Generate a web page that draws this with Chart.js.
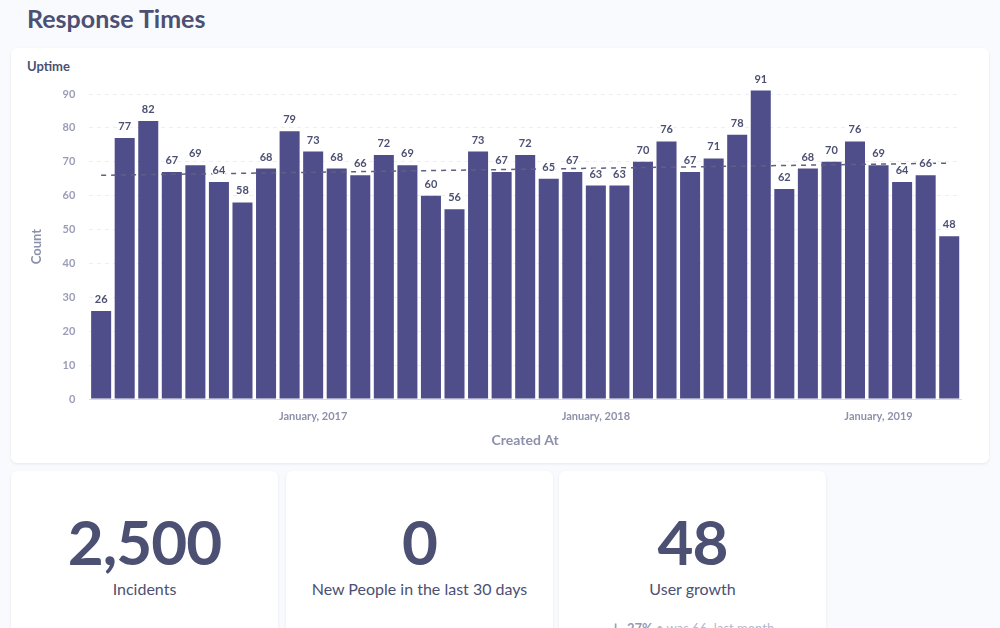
<!DOCTYPE html>
<html>
<head>
<meta charset="utf-8">
<script src="https://cdn.jsdelivr.net/npm/chart.js@4"></script>
<style>
  body { margin: 0; background: #f9fafd; font-family: Lato, sans-serif; color: #4c5073; width: 1000px; height: 628px; overflow: hidden; position: relative; }
  h1 { position: absolute; left: 27px; top: 3px; margin: 0; font-size: 25px; font-weight: 700; color: #4c5073; }
  .card { position: absolute; background: #fff; border-radius: 6px; box-shadow: 0 1px 3px rgba(0,0,0,0.08); }
  #chartCard { left: 11px; top: 48px; width: 978px; height: 415px; }
  #chartCard .ttl { position: absolute; left: 16px; top: 10px; font-size: 13px; font-weight: 700; }
  #chartCard canvas { position: absolute; left: 0; top: 0; }
  .stat { top: 471px; height: 170px; width: 267px; text-align: center; }
  .big { font-size: 62px; font-weight: 700; margin-top: 34px; line-height: 72px; letter-spacing: -1px; }
  .lbl { font-size: 16px; margin-top: 2px; }
  .sub { font-size: 13px; color: #b5b8cf; margin-top: 22px; }
  .sub b { color: #9699b4; }
</style>
</head>
<body>
<h1>Response Times</h1>
<div class="card" id="chartCard">
  <div class="ttl">Uptime</div>
  <canvas id="c" width="978" height="415"></canvas>
</div>
<div class="card stat" style="left:11px"><div class="big">2,500</div><div class="lbl">Incidents</div></div>
<div class="card stat" style="left:286px"><div class="big">0</div><div class="lbl">New People in the last 30 days</div></div>
<div class="card stat" style="left:559px"><div class="big">48</div><div class="lbl">User growth</div>
  <div class="sub"><b>&#8595;&nbsp; 27%</b> &bull; was 66 &nbsp;last month</div></div>
<script>
const months = ['Apr 2016','May 2016','Jun 2016','Jul 2016','Aug 2016','Sep 2016','Oct 2016','Nov 2016','Dec 2016',
  'January, 2017','Feb 2017','Mar 2017','Apr 2017','May 2017','Jun 2017','Jul 2017','Aug 2017','Sep 2017','Oct 2017','Nov 2017','Dec 2017',
  'January, 2018','Feb 2018','Mar 2018','Apr 2018','May 2018','Jun 2018','Jul 2018','Aug 2018','Sep 2018','Oct 2018','Nov 2018','Dec 2018',
  'January, 2019','Feb 2019','Mar 2019','Apr 2019'];
const counts = [26,77,82,67,69,64,58,68,79,73,68,66,72,69,60,56,73,67,72,65,67,63,63,70,76,67,71,78,91,62,68,70,76,69,64,66,48];
const trend = [66,null,null,null,null,null,null,null,null,null,null,null,null,null,null,null,null,null,
  null,null,null,null,null,null,null,null,null,null,null,null,null,null,null,null,null,null,69.6];
const yTicks = [0,10,20,30,40,50,60,70,80,90];

const barColor = '#4f4e8a';
const inkColor = '#4c5073';

const valueLabels = {
  id: 'valueLabels',
  afterDatasetsDraw(chart) {
    const ctx = chart.ctx;
    const meta = chart.getDatasetMeta(1);
    ctx.save();
    ctx.font = 'bold 11px Lato';
    ctx.fillStyle = inkColor;
    ctx.textAlign = 'center';
    ctx.textBaseline = 'bottom';
    ctx.strokeStyle = '#fff';
    ctx.lineWidth = 3;
    meta.data.forEach((bar, i) => {
      ctx.strokeText(counts[i], bar.x, bar.y - 6);
      ctx.fillText(counts[i], bar.x, bar.y - 6);
    });
    ctx.restore();
  }
};

new Chart(document.getElementById('c'), {
  data: {
    labels: months,
    datasets: [
      {
        type: 'line',
        data: trend,
        spanGaps: true,
        borderColor: '#5d6080',
        borderWidth: 1.5,
        borderDash: [5, 5],
        pointRadius: 0,
        order: 0
      },
      {
        type: 'bar',
        data: counts,
        backgroundColor: barColor,
        barPercentage: 0.85,
        categoryPercentage: 1,
        clip: false,
        order: 1
      }
    ]
  },
  plugins: [valueLabels],
  options: {
    responsive: false,
    animation: false,
    layout: { padding: { top: 46, right: 28, left: 14, bottom: 10 } },
    plugins: { legend: { display: false }, tooltip: { enabled: false } },
    scales: {
      x: {
        offset: true,
        grid: { display: false },
        border: { color: '#d8d9e6' },
        ticks: {
          autoSkip: false, maxRotation: 0,
          color: '#8d90ab', font: { family: 'Lato', size: 11, weight: 'bold' },
          callback: (v, i) => months[i].startsWith('January') ? months[i] : ''
        },
        title: { display: true, text: 'Created At', color: '#8d90ab', font: { family: 'Lato', size: 14, weight: 'bold' }, padding: { top: 6 } }
      },
      y: {
        min: 0, max: 90,
        afterBuildTicks: axis => { axis.ticks = yTicks.map(v => ({ value: v })); },
        grid: { color: '#eeeef4', drawTicks: false },
        border: { display: false, dash: [4, 4] },
        ticks: { color: '#9a9db6', padding: 14, font: { family: 'Lato', size: 11, weight: 'bold' } },
        title: { display: true, text: 'Count', color: '#8d90ab', font: { family: 'Lato', size: 13, weight: 'bold' } }
      }
    }
  }
});
</script>
</body>
</html>
